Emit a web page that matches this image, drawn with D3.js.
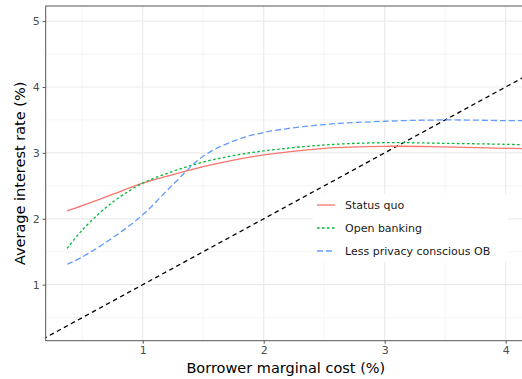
<!DOCTYPE html>
<html>
<head>
<meta charset="utf-8">
<script src="https://cdn.jsdelivr.net/npm/d3@7"></script>
<style>
  body { margin: 0; background: #fff; }
  svg { font-family: "DejaVu Sans", sans-serif; }
</style>
</head>
<body>
<script>
// borrower marginal cost (%)
var cost = [0.375, 0.5, 0.75, 1, 1.25, 1.5, 1.75, 2, 2.5, 3, 3.5, 4, 4.2];
var statusQuo = [2.12, 2.2, 2.37, 2.54, 2.67, 2.79, 2.89, 2.97, 3.07, 3.10, 3.09, 3.07, 3.06];
var openBanking = [1.55, 1.83, 2.25, 2.54, 2.72, 2.86, 2.96, 3.03, 3.12, 3.155, 3.145, 3.13, 3.12];
var lessPrivacy = [1.31, 1.42, 1.71, 2.06, 2.52, 2.95, 3.18, 3.31, 3.43, 3.48, 3.50, 3.49, 3.49];
var seriesNames = ["Status quo", "Open banking", "Less privacy conscious OB"];
var xTicks = [1, 2, 3, 4];
var yTicks = [1, 2, 3, 4, 5];
var diagonal = [0, 6]; // 45 degree line, y = x

var W = 522, H = 379;
var margin = {top: 6, right: -4, bottom: 38.3, left: 45.7};
var width = W - margin.left - margin.right;
var height = H - margin.top - margin.bottom;

var x = d3.scaleLinear().domain([0.198, 4.168]).range([0, width]);
var y = d3.scaleLinear().domain([0.150, 5.229]).range([height, 0]);

var styles = [
  {color: "#F8766D", dash: null},
  {color: "#00BA38", dash: "2.6,2.4"},
  {color: "#619CFF", dash: "6,3"}
];
var seriesData = [statusQuo, openBanking, lessPrivacy];

var svg = d3.select("body").append("svg")
  .attr("width", W)
  .attr("height", H);

var g = svg.append("g")
  .attr("transform", "translate(" + margin.left + "," + margin.top + ")");

g.append("clipPath").attr("id", "clip")
  .append("rect").attr("width", width).attr("height", height);

// grid
var minorX = d3.range(0.5, 4.6, 1), minorY = d3.range(0.5, 5.1, 1);
g.selectAll(".minx").data(minorX).enter().append("line")
  .attr("x1", function(d) { return x(d); }).attr("x2", function(d) { return x(d); })
  .attr("y1", 0).attr("y2", height)
  .attr("stroke", "#F1F1F1").attr("stroke-width", 0.7);
g.selectAll(".miny").data(minorY).enter().append("line")
  .attr("y1", function(d) { return y(d); }).attr("y2", function(d) { return y(d); })
  .attr("x1", 0).attr("x2", width)
  .attr("stroke", "#F1F1F1").attr("stroke-width", 0.7);
g.selectAll(".majx").data(xTicks).enter().append("line")
  .attr("x1", function(d) { return x(d); }).attr("x2", function(d) { return x(d); })
  .attr("y1", 0).attr("y2", height)
  .attr("stroke", "#EBEBEB").attr("stroke-width", 1.2);
g.selectAll(".majy").data(yTicks).enter().append("line")
  .attr("y1", function(d) { return y(d); }).attr("y2", function(d) { return y(d); })
  .attr("x1", 0).attr("x2", width)
  .attr("stroke", "#EBEBEB").attr("stroke-width", 1.2);

var plot = g.append("g").attr("clip-path", "url(#clip)");

// 45 degree line
plot.append("path")
  .attr("d", d3.line()([[x(diagonal[0]), y(diagonal[0])], [x(diagonal[1]), y(diagonal[1])]]))
  .attr("fill", "none")
  .attr("stroke", "#000")
  .attr("stroke-width", 1.3)
  .attr("stroke-dasharray", "4.5,3.5");

var line = d3.line()
  .curve(d3.curveCatmullRom.alpha(0.5))
  .x(function(d) { return x(d[0]); })
  .y(function(d) { return y(d[1]); });

seriesData.forEach(function(vals, i) {
  plot.append("path")
    .datum(cost.map(function(c, k) { return [c, vals[k]]; }))
    .attr("d", line)
    .attr("fill", "none")
    .attr("stroke", styles[i].color)
    .attr("stroke-width", 1.3)
    .attr("stroke-dasharray", styles[i].dash);
});

// panel border
g.append("rect")
  .attr("width", width).attr("height", height)
  .attr("fill", "none").attr("stroke", "#555").attr("stroke-width", 1);

// axes
var xAxis = g.append("g")
  .attr("transform", "translate(0," + height + ")")
  .call(d3.axisBottom(x).tickValues(xTicks).tickSize(3).tickPadding(3).tickFormat(d3.format("d")));
var yAxis = g.append("g")
  .call(d3.axisLeft(y).tickValues(yTicks).tickSize(3).tickPadding(3).tickFormat(d3.format("d")));
[xAxis, yAxis].forEach(function(a) {
  a.select(".domain").remove();
  a.selectAll("line").attr("stroke", "#555");
  a.selectAll("text").attr("fill", "#4D4D4D").style("font-size", "11px")
    .style("font-family", "DejaVu Sans, sans-serif");
});

svg.append("text")
  .attr("x", margin.left + width / 2).attr("y", 373)
  .attr("text-anchor", "middle")
  .style("font-size", "14.5px")
  .text("Borrower marginal cost (%)");

svg.append("text")
  .attr("transform", "translate(25," + (margin.top + height / 2) + ") rotate(-90)")
  .attr("text-anchor", "middle")
  .style("font-size", "14.5px")
  .text("Average interest rate (%)");

// legend
var legend = svg.append("g").attr("transform", "translate(313,194)");
legend.append("rect").attr("width", 195).attr("height", 68).attr("fill", "#fff");
seriesNames.forEach(function(name, i) {
  var row = legend.append("g").attr("transform", "translate(0," + (11 + i * 23) + ")");
  row.append("line")
    .attr("x1", 4).attr("x2", 22).attr("y1", 0).attr("y2", 0)
    .attr("stroke", styles[i].color).attr("stroke-width", 1.3)
    .attr("stroke-dasharray", styles[i].dash);
  row.append("text")
    .attr("x", 32).attr("y", 4)
    .style("font-size", "11px")
    .attr("fill", "#1A1A1A")
    .text(name);
});
</script>
</body>
</html>
